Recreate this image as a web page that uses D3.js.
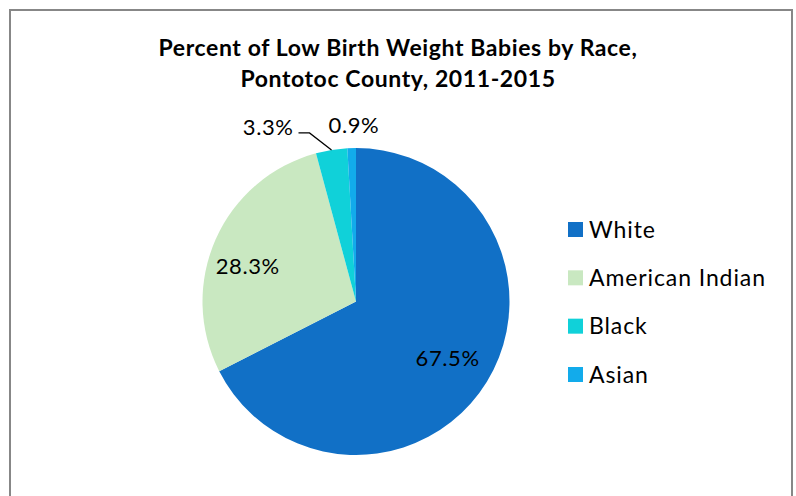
<!DOCTYPE html>
<html>
<head>
<script type="text/javascript" src="https://d3js.org/d3.v7.min.js"></script>
<title>Low Birth Weight Babies by Race</title>
<style>
  body { margin: 0; background: #fff; }
  text { font-family: Lato, "Open Sans", sans-serif; fill: #000; }
</style>
</head>
<body>
<div id="chart"></div>

<script type="text/javascript">
(function(){

var races = ["White", "American Indian", "Black", "Asian"];
var percents = [67.5, 28.3, 3.3, 0.9];
var colors = ["#1170c6", "#c9e8c1", "#10d1d9", "#12abeb"];
var titleLines = ["Percent of Low Birth Weight Babies by Race,", "Pontotoc County, 2011-2015"];

var w = 796, h = 496;
var cx = 356, cy = 301.5, r = 153.5;

var svg = d3.select("#chart").append("svg")
  .attr("width", w).attr("height", h);

// chart frame
svg.append("rect")
  .attr("x", 10).attr("y", 10)
  .attr("width", 782).attr("height", 500)
  .attr("fill", "#fff").attr("stroke", "#878787").attr("stroke-width", 2);

// title
svg.selectAll("text.title")
  .data(titleLines)
  .enter().append("text")
  .attr("class", "title")
  .attr("x", 398)
  .attr("y", function(d, i) { return 55.7 + i * 31; })
  .attr("text-anchor", "middle")
  .attr("font-size", 23)
  .attr("font-weight", "bold")
  .attr("letter-spacing", 0.6)
  .text(function(d) { return d; });

var data = races.map(function(d, i) { return { race: d, value: percents[i], color: colors[i] }; });

var pie = d3.pie().sort(null).value(function(d) { return d.value; });
var arcs = pie(data);

var arc = d3.arc().innerRadius(0).outerRadius(r);
var labelArc = d3.arc().innerRadius(r * 0.7).outerRadius(r * 0.7);

var g = svg.append("g").attr("transform", "translate(" + cx + "," + cy + ")");

g.selectAll("path")
  .data(arcs)
  .enter().append("path")
  .attr("d", arc)
  .attr("fill", function(d) { return d.data.color; });

function fmt(v) { return d3.format(".1f")(v) + "%"; }

var lblSize = 22, lblSpacing = 0.6;

// big slices: label inside
var inside = arcs.filter(function(d) { return d.data.value > 10; });
g.selectAll("text.inlabel")
  .data(inside)
  .enter().append("text")
  .attr("class", "inlabel")
  .attr("transform", function(d, i) {
    var c = labelArc.centroid(d);
    if (i === 1) { c[0] -= 10; c[1] += 8; }
    return "translate(" + c + ")";
  })
  .attr("text-anchor", "middle")
  .attr("dy", "0.36em")
  .attr("font-size", lblSize)
  .attr("letter-spacing", lblSpacing)
  .text(function(d) { return fmt(d.data.value); });

// small slices: labels outside
var black = arcs[2], asian = arcs[3];
function edge(d, rad) {
  var a = (d.startAngle + d.endAngle) / 2;
  return [Math.sin(a) * rad, -Math.cos(a) * rad];
}
var p0 = edge(black, r);
var elbow = [p0[0] - 22, p0[1] - 17];
g.append("path")
  .attr("d", d3.line()([p0, elbow, [elbow[0] - 11, elbow[1]]]))
  .attr("fill", "none")
  .attr("stroke", "#000")
  .attr("stroke-width", 1.3);
g.append("text")
  .attr("x", elbow[0] - 16).attr("y", elbow[1] - 6)
  .attr("text-anchor", "end")
  .attr("dy", "0.36em")
  .attr("font-size", lblSize)
  .attr("letter-spacing", lblSpacing)
  .text(fmt(black.data.value));

var pa = edge(asian, r + 26);
g.append("text")
  .attr("x", pa[0] + 3).attr("y", pa[1] + 3)
  .attr("text-anchor", "middle")
  .attr("dy", "0.36em")
  .attr("font-size", lblSize)
  .attr("letter-spacing", lblSpacing)
  .text(fmt(asian.data.value));

// legend
var legend = svg.append("g");
var ly = d3.scalePoint().domain(races).range([229.5, 374.5]);
var item = legend.selectAll("g")
  .data(data)
  .enter().append("g")
  .attr("transform", function(d) { return "translate(568," + ly(d.race) + ")"; });
item.append("rect")
  .attr("x", 0).attr("y", -7.5)
  .attr("width", 15).attr("height", 15)
  .attr("fill", function(d) { return d.color; });
item.append("text")
  .attr("x", 21).attr("dy", "0.36em")
  .attr("font-size", 23)
  .attr("letter-spacing", 0.9)
  .text(function(d) { return d.race; });

})();
</script>
</body>
</html>
